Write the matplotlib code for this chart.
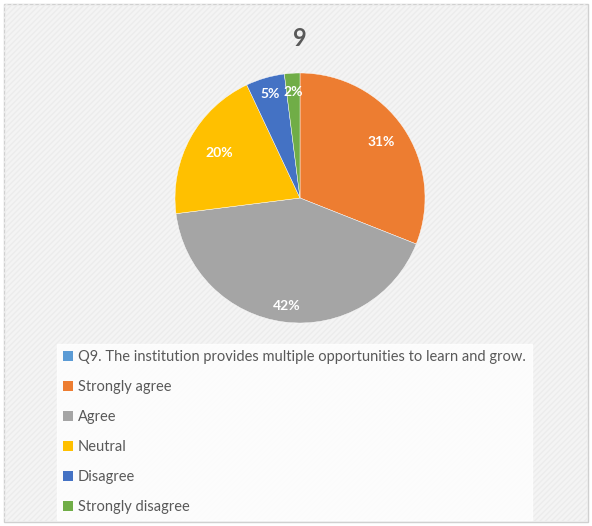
import numpy as np
import matplotlib
matplotlib.use('Agg')
import matplotlib.pyplot as plt
from matplotlib.patches import Rectangle, Patch

plt.rcParams['font.family'] = ['Lato', 'DejaVu Sans']

# data
categories = ['Strongly agree', 'Agree', 'Neutral', 'Disagree', 'Strongly disagree']
values = [31, 42, 20, 5, 2]
colors = ['#ED7D31', '#A5A5A5', '#FFC000', '#4472C4', '#70AD47']
series_name = 'Q9. The institution provides multiple opportunities to learn and grow.'
series_color = '#5B9BD5'
title = '9'
label_dist = [0.79, 0.87, 0.74, 0.87, 0.85]

W, H = 592, 526
fig = plt.figure(figsize=(W / 100, H / 100), dpi=100)
fig.patch.set_facecolor('white')

# chart area background with border
bg = Rectangle((4 / W, 4 / H), (W - 8) / W, (H - 8) / H, transform=fig.transFigure,
               facecolor='#F4F4F4', edgecolor='#D0D0D0', linewidth=1.0, zorder=-2)
fig.patches.append(bg)
hatch = Rectangle((4 / W, 4 / H), (W - 8) / W, (H - 8) / H, transform=fig.transFigure,
                  facecolor='none', edgecolor='#ECECEC', hatch='//////', linewidth=0, zorder=-1)
fig.patches.append(hatch)

fig.text(300 / W, 1 - 38 / H, title, ha='center', va='center', fontsize=17,
         fontweight='bold', color='#595959')

cx, cy, r = 300, 198, 125
ax = fig.add_axes([(cx - r) / W, 1 - (cy + r) / H, 2 * r / W, 2 * r / H])
ax.set_aspect('equal')
ax.patch.set_visible(False)
wedges, texts, autotexts = ax.pie(values, colors=colors, startangle=90, counterclock=False,
                                  autopct='%1.0f%%', pctdistance=0.8,
                                  wedgeprops=dict(edgecolor='white', linewidth=0.3),
                                  textprops=dict(color='white', fontsize=10, fontweight='bold'))
for w, t, d in zip(wedges, autotexts, label_dist):
    ang = np.deg2rad((w.theta1 + w.theta2) / 2)
    t.set_position((d * np.cos(ang), d * np.sin(ang)))
ax.set_xlim(-1, 1)
ax.set_ylim(-1, 1)
ax.axis('off')

handles = [Patch(facecolor=series_color)] + [Patch(facecolor=c) for c in colors]
labels = [series_name] + categories
leg = fig.legend(handles, labels, loc='upper left', bbox_to_anchor=(57 / W, 1 - 344 / H),
                 frameon=True, fancybox=False, fontsize=10.5, handlelength=0.7,
                 handleheight=0.7, handletextpad=0.3, labelspacing=1.1,
                 borderpad=0.42, borderaxespad=0)
leg.get_frame().set_facecolor('white')
leg.get_frame().set_edgecolor('white')
for t in leg.get_texts():
    t.set_color('#595959')

fig.savefig('out.png', dpi=100)
